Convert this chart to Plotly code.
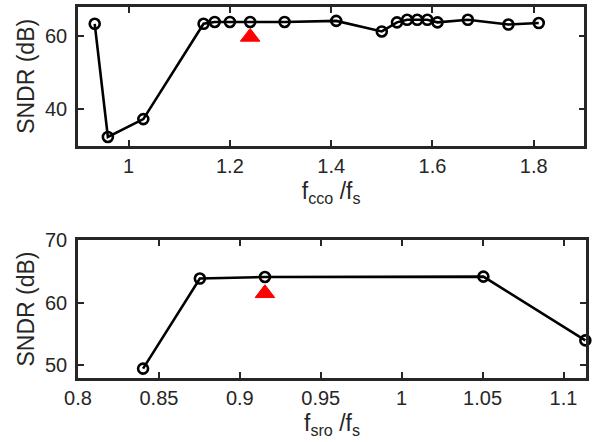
import plotly.graph_objects as go
from plotly.subplots import make_subplots

# SNDR versus CCO frequency ratio
f_cco_ratio = [0.933, 0.959, 1.029, 1.148, 1.170, 1.200, 1.240, 1.308, 1.410,
               1.500, 1.530, 1.550, 1.570, 1.590, 1.610, 1.670, 1.750, 1.810]
sndr_cco = [63.4, 32.4, 37.3, 63.4, 63.9, 63.9, 63.9, 63.9, 64.2,
            61.3, 63.8, 64.5, 64.5, 64.5, 63.8, 64.5, 63.2, 63.6]
cco_design_x = [1.24]
cco_design_y = [59.8]

# SNDR versus SRO frequency ratio
f_sro_ratio = [0.8402, 0.8753, 0.9155, 1.0505, 1.1135]
sndr_sro = [49.5, 63.85, 64.1, 64.16, 54.0]
sro_design_x = [0.9155]
sro_design_y = [61.5]

AX = "#262626"
FONT = "Liberation Sans, Arial, Helvetica, sans-serif"

fig = make_subplots(rows=2, cols=1)

line_style = dict(color="black", width=2.6)
circle_style = dict(symbol="circle-open", size=10, color="black",
                    line=dict(width=2.6, color="black"))
tri_style = dict(symbol="triangle-up", size=17, color="#ff0000",
                 line=dict(width=1, color="#ff0000"))

fig.add_trace(go.Scatter(x=f_cco_ratio, y=sndr_cco, mode="lines+markers",
                         line=line_style, marker=circle_style,
                         showlegend=False, cliponaxis=False), row=1, col=1)
fig.add_trace(go.Scatter(x=cco_design_x, y=cco_design_y, mode="markers",
                         marker=tri_style, showlegend=False), row=1, col=1)
fig.add_trace(go.Scatter(x=f_sro_ratio, y=sndr_sro, mode="lines+markers",
                         line=line_style, marker=circle_style,
                         showlegend=False, cliponaxis=False), row=2, col=1)
fig.add_trace(go.Scatter(x=sro_design_x, y=sro_design_y, mode="markers",
                         marker=tri_style, showlegend=False), row=2, col=1)

axis_common = dict(showline=True, linecolor=AX, linewidth=2.6, mirror="ticks",
                   ticks="inside", ticklen=6, tickwidth=2, tickcolor=AX,
                   showgrid=False, zeroline=False, automargin=False,
                   tickfont=dict(family=FONT, size=20, color=AX),
                   title_font=dict(family=FONT, size=23, color=AX))

fig.update_xaxes(**axis_common)
fig.update_yaxes(**axis_common)

fig.update_xaxes(range=[0.9, 1.9], tick0=0, dtick=0.2, domain=[0, 0.9967],
                 title_text="f<sub>cco</sub> /f<sub>s</sub>", title_standoff=8,
                 row=1, col=1)
fig.update_yaxes(range=[30, 68], tick0=0, dtick=20, domain=[0.626, 1],
                 title_text="SNDR (dB)", title_standoff=4, ticklabelstandoff=4,
                 row=1, col=1)
fig.update_xaxes(range=[0.8, 1.1139], tick0=0, dtick=0.05, domain=[0, 1],
                 title_text="f<sub>sro</sub> /f<sub>s</sub>", title_standoff=8,
                 row=2, col=1)
fig.update_yaxes(range=[48, 70], tick0=0, dtick=10, domain=[0, 0.372],
                 title_text="SNDR (dB)", title_standoff=4, ticklabelstandoff=4,
                 row=2, col=1)

fig.update_layout(template="none", width=595, height=442,
                  margin=dict(l=78, r=9, t=7, b=64),
                  paper_bgcolor="white", plot_bgcolor="white",
                  font=dict(family=FONT, color=AX))

fig.write_html("out.html")
